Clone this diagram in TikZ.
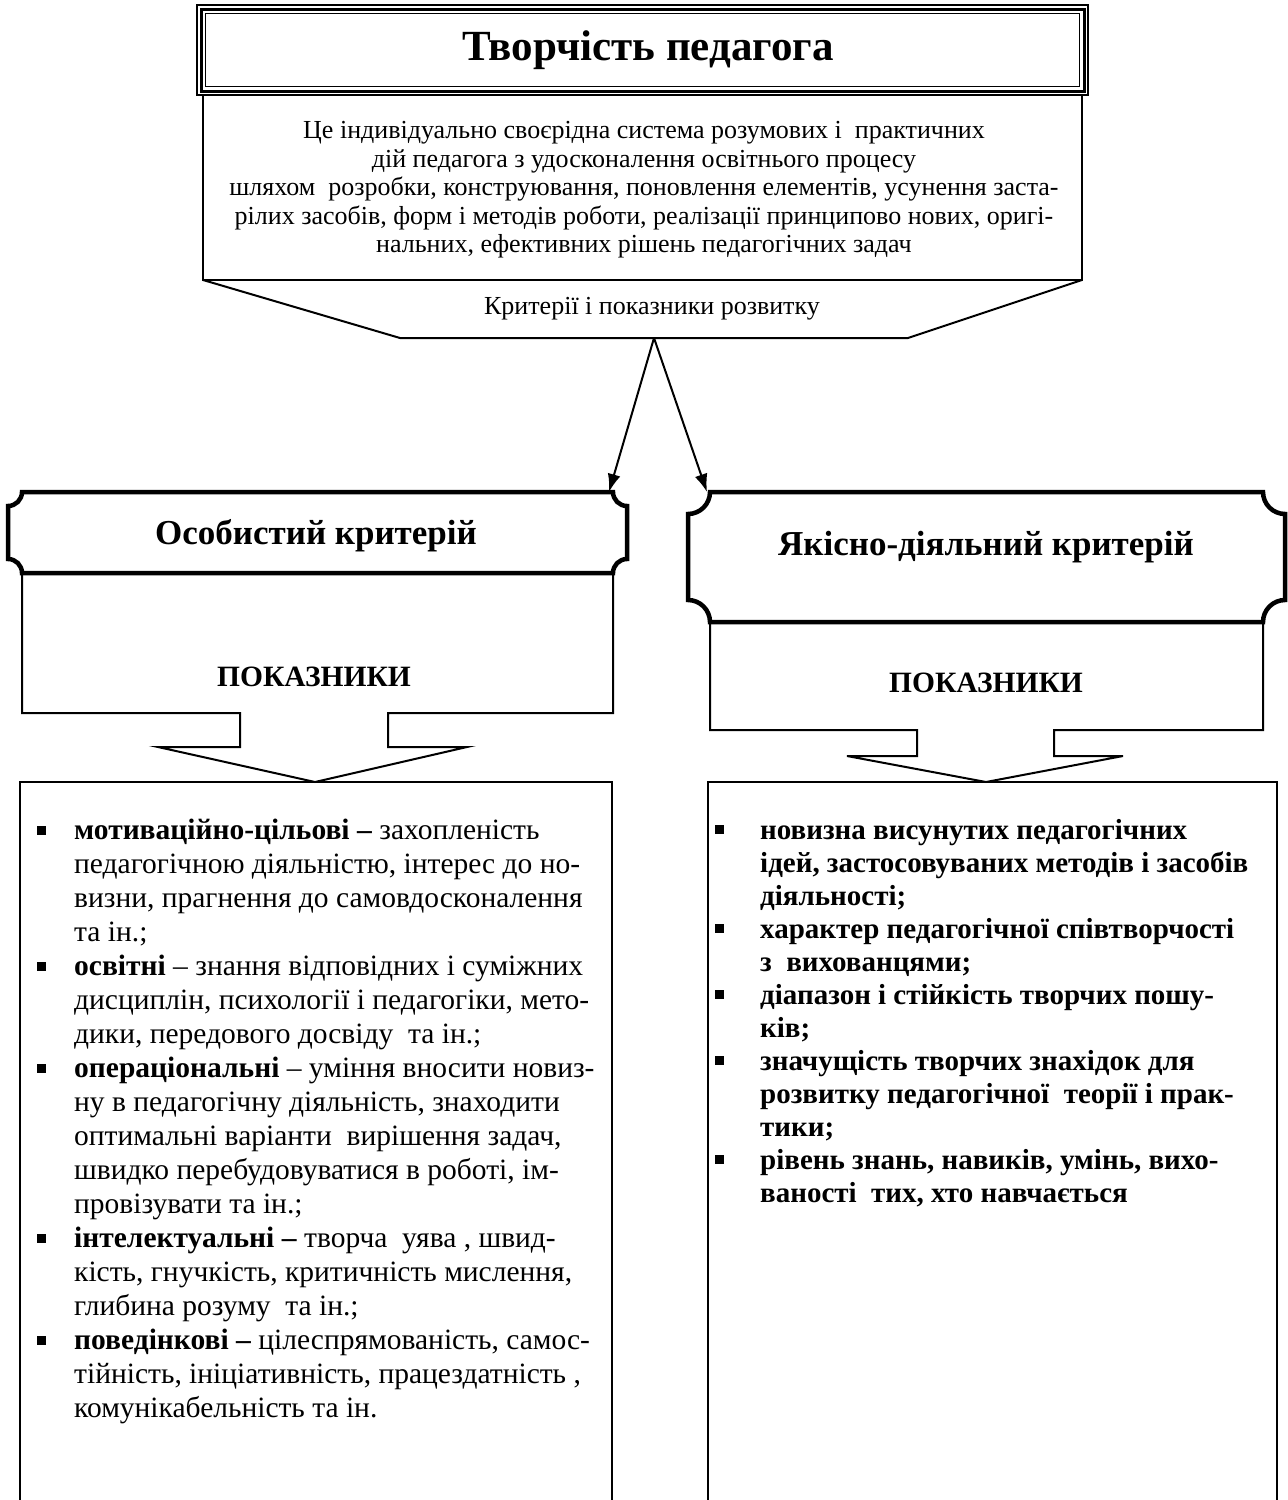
\documentclass[tikz,border=0pt]{standalone}
\usepackage{fontspec}
\setmainfont{Liberation Serif}
\usetikzlibrary{arrows.meta}
\newcommand\bulL{\makebox[37pt][l]{\raisebox{5pt}{\rule{9pt}{9pt}}}}
\newcommand\indL{\hspace*{37pt}}
\newcommand\bulR{\makebox[45pt][l]{\raisebox{5pt}{\rule{9pt}{9pt}}}}
\newcommand\indR{\hspace*{45pt}}
\begin{document}
\begin{tikzpicture}[x=1pt,y=-1pt,line join=miter,
  thinline/.style={line width=2pt},
  thickline/.style={line width=4.5pt},
  desctext/.style={font=\fontsize{26}{28.5}\selectfont,align=center,inner sep=0pt},
  crittext/.style={font=\fontsize{35}{40}\selectfont\bfseries,inner sep=0pt},
  pokaz/.style={font=\fontsize{29.5}{34}\selectfont\bfseries,inner sep=0pt},
  listL/.style={font=\fontsize{29.5}{34}\selectfont,align=left,inner sep=0pt,anchor=north west},
  listR/.style={font=\fontsize{29}{33}\selectfont\bfseries,align=left,inner sep=0pt,anchor=north west},
  arr/.style={line width=2pt,-{Latex[length=18pt,width=13pt]}}]
\useasboundingbox (0,0) rectangle (1288,1500);

% title box (triple border)
\draw[line width=1.2pt] (197,5) rectangle (1088,95);
\draw[line width=3pt] (201,9) rectangle (1084,91);
\draw[line width=1.2pt] (205.5,13.5) rectangle (1079.5,86.5);
\node[inner sep=0pt,font=\fontsize{43}{50}\selectfont\bfseries] (title) at (648,50) {Творчість педагога};

% description box with trapezoid
\draw[thinline] (203,95) rectangle (1082,280);
\node[desctext] (desc) at (644,190) {Це індивідуально своєрідна система розумових і\ \ практичних\\
дій педагога з удосконалення освітнього процесу\\
шляхом\ \ розробки, конструювання, поновлення елементів, усунення заста-\\
рілих засобів, форм і методів роботи, реалізації принципово нових, оригі-\\
нальних, ефективних рішень педагогічних задач};
\draw[thinline] (203,280) -- (400,338) -- (908,338) -- (1082,280);
\node[desctext] (crit) at (652,309) {Критерії і показники розвитку};

\coordinate (src) at (654,338);
\coordinate (ltgt) at (609,492);
\coordinate (rtgt) at (707,492);
\draw[arr] (src) -- (ltgt);
\draw[arr] (src) -- (rtgt);

% left plaque
\draw[thickline] (22,492) -- (613,492) .. controls (613,499.7) and (619.3,506) .. (627,506)
  -- (627,559) .. controls (619.3,559) and (613,565.3) .. (613,573)
  -- (22,573) .. controls (22,565.3) and (15.7,559) .. (8,559)
  -- (8,506) .. controls (15.7,506) and (22,499.7) .. cycle;
\node[crittext] (lcrit) at (316,536) {Особистий критерій};

% right plaque
\draw[thickline] (710,492) -- (1263,492) .. controls (1263,504.1) and (1272.9,514) .. (1285,514)
  -- (1285,600) .. controls (1272.9,600) and (1263,609.9) .. (1263,622)
  -- (710,622) .. controls (710,609.9) and (700.1,600) .. (688,600)
  -- (688,514) .. controls (700.1,514) and (710,504.1) .. cycle;
\node[crittext] (rcrit) at (986,547) {Якісно-діяльний критерій};

% left arrow callout
\draw[thinline] (22,573) -- (22,713) -- (240,713) -- (240,747) -- (158,747) -- (315,782)
  -- (467,747) -- (388,747) -- (388,713) -- (613,713) -- (613,573);
\node[pokaz] (lpok) at (314,677) {ПОКАЗНИКИ};

% right arrow callout
\draw[thinline] (710,622) -- (710,730) -- (917,730) -- (917,756) -- (847,756) -- (986,782)
  -- (1123,756) -- (1054,756) -- (1054,730) -- (1263,730) -- (1263,622);
\node[pokaz] (rpok) at (986,683) {ПОКАЗНИКИ};

% bottom boxes
\draw[thinline] (20,1510) -- (20,782) -- (612,782) -- (612,1510);
\draw[thinline] (708,1510) -- (708,782) -- (1277,782) -- (1277,1510);

\node[listL] (llist) at (37,819) {%
\bulL\textbf{мотиваційно-цільові –} захопленість\\
\indL педагогічною діяльністю, інтерес до но-\\
\indL визни, прагнення до самовдосконалення\\
\indL та ін.;\\
\bulL\textbf{освітні} – знання відповідних і суміжних\\
\indL дисциплін, психології і педагогіки, мето-\\
\indL дики, передового досвіду\ \ та ін.;\\
\bulL\textbf{операціональні} – уміння вносити новиз-\\
\indL ну в педагогічну діяльність, знаходити\\
\indL оптимальні варіанти\ \ вирішення задач,\\
\indL швидко перебудовуватися в роботі, ім-\\
\indL провізувати та ін.;\\
\bulL\textbf{інтелектуальні –} творча\ \ уява , швид-\\
\indL кість, гнучкість, критичність мислення,\\
\indL глибина розуму\ \ та ін.;\\
\bulL\textbf{поведінкові –} цілеспрямованість, самос-\\
\indL тійність, ініціативність, працездатність ,\\
\indL комунікабельність та ін.};

\node[listR] (rlist) at (715,819) {%
\bulR новизна висунутих педагогічних\\
\indR ідей, застосовуваних методів і засобів\\
\indR діяльності;\\
\bulR характер педагогічної співтворчості\\
\indR з\ \ вихованцями;\\
\bulR діапазон і стійкість творчих пошу-\\
\indR ків;\\
\bulR значущість творчих знахідок для\\
\indR розвитку педагогічної\ \ теорії і прак-\\
\indR тики;\\
\bulR рівень знань, навиків, умінь, вихо-\\
\indR ваності\ \ тих, хто навчається};
\end{tikzpicture}
\end{document}
